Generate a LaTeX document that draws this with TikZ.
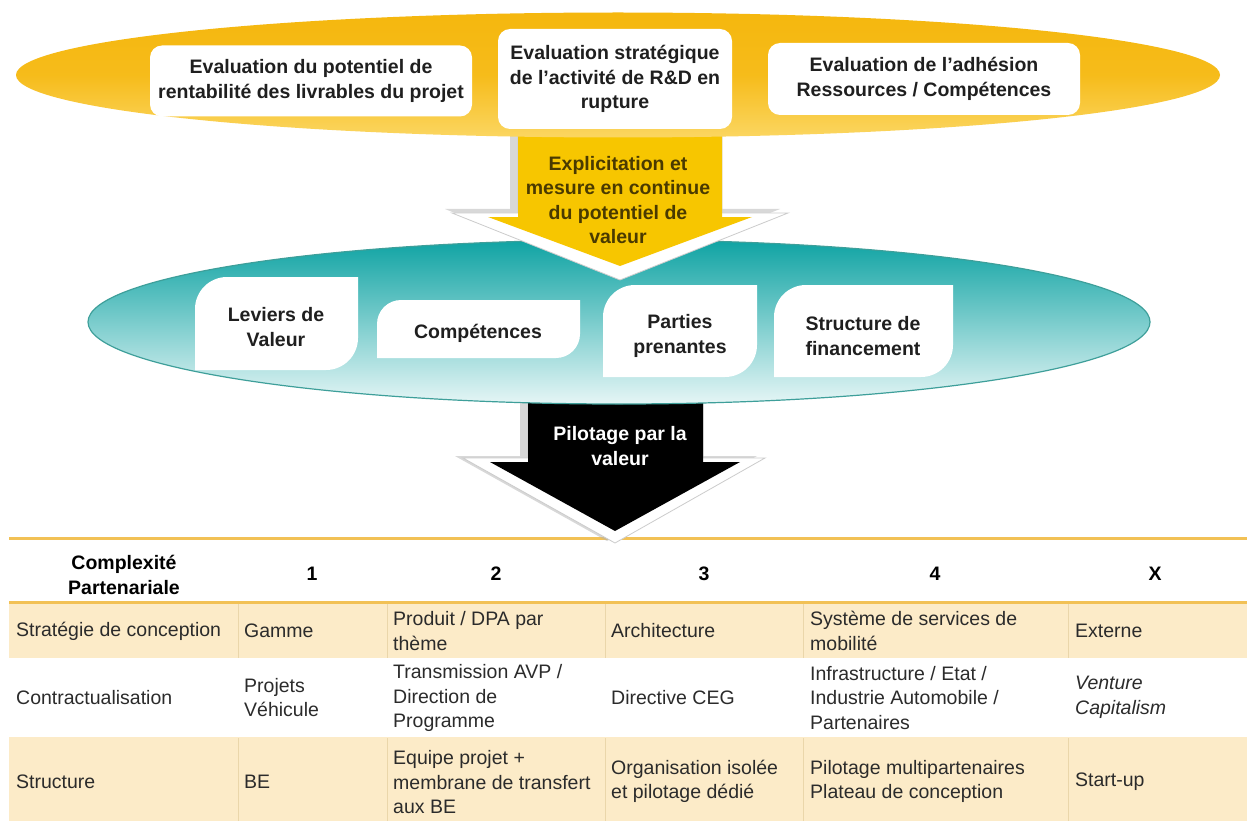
\documentclass[tikz,border=0pt]{standalone}
\usepackage{fontspec}
\setmainfont{Liberation Sans}
\definecolor{yel1}{HTML}{F5B70E}
\definecolor{yel2}{HTML}{FBD661}
\definecolor{arrowyel}{HTML}{F7C600}
\definecolor{arrowtxt}{HTML}{4A3A00}
\definecolor{teal1}{HTML}{0FA3A3}
\definecolor{teal2}{HTML}{E6F6F6}
\definecolor{tealedge}{HTML}{3E9F9A}
\definecolor{beige}{HTML}{FCEBC8}
\definecolor{tline}{HTML}{F2C155}
\definecolor{vline}{HTML}{EAD6AA}
\definecolor{txt}{HTML}{2B2B2B}
\tikzset{
  bigfont/.style={font=\fontsize{19.5}{24.5}\selectfont\bfseries},
  topbox/.style={fill=white, rounded corners=12pt, bigfont, text=black!88, align=center, inner sep=0pt},
  leaftext/.style={bigfont, text=black!88, align=center, inner sep=0pt},
  arrowtext/.style={bigfont, align=center, inner sep=0pt},
  cell/.style={anchor=west, font=\fontsize{19.5}{24.5}\selectfont, text=txt, align=left, inner sep=0pt},
  headcell/.style={font=\fontsize{19.5}{24.5}\selectfont\bfseries, text=black, align=center, inner sep=0pt},
  tablerule/.style={draw=tline, line width=3pt},
  colrule/.style={draw=vline, line width=0.8pt},
  leaffill/.style={fill=white},
  shadowfill/.style={fill=gray!60, opacity=0.5},
  glowfill/.style={fill=white, draw=gray!40, line width=0.8pt},
}
\newcommand\leafshape[5]{%
  \fill[leaffill] (#1,#2+#5) .. controls (#1,#2+0.448*#5) and (#1+0.448*#5,#2) .. (#1+#5,#2)
    -- (#3,#2) -- (#3,#4-#5) .. controls (#3,#4-0.448*#5) and (#3-0.448*#5,#4) .. (#3-#5,#4)
    -- (#1,#4) -- cycle;}
\begin{document}
\begin{tikzpicture}[x=1pt,y=-1pt]
\useasboundingbox (0,0) rectangle (1247,821);
\fill[white] (0,0) rectangle (1247,821);

% ---------- table ----------
\fill[beige] (9,602) rectangle (1247,658);
\fill[beige] (9,737) rectangle (1247,821);
\foreach \x in {238,387,605,803,1068} {
  \draw[colrule] (\x,604) -- (\x,658);
  \draw[colrule] (\x,738) -- (\x,821);
}
\draw[tablerule] (9,538) -- (1247,538);
\draw[tablerule] (9,602) -- (1247,602);

% ---------- black arrow ----------
\fill[shadowfill] (520,395) -- (520,456) -- (455,456) -- (607,541) -- (757,456) -- (695,456) -- (695,395) -- cycle;
\path[glowfill] (528,395) -- (528,458) -- (463,458) -- (615,543) -- (765,458) -- (703,458) -- (703,395) -- cycle;
\fill[black] (528,395) -- (528,462) -- (490,462) -- (615,531) -- (740,462) -- (703,462) -- (703,395) -- cycle;

% ---------- teal ellipse ----------
\shade[top color=teal1, bottom color=teal2] (619,322) ellipse [x radius=531, y radius=82];
\draw[tealedge, line width=1.2pt] (619,322) ellipse [x radius=531, y radius=82];

\leafshape{195}{277}{358}{370}{32}
\leafshape{377}{300}{580}{358}{24}
\leafshape{603}{285}{757}{377}{32}
\leafshape{774}{285}{953}{377}{32}

\node[leaftext] (lev) at (276,327) {Leviers de\\Valeur};
\node[leaftext] (comp) at (478,333) {Compétences};
\node[leaftext] (part) at (680,336) {Parties\\prenantes};
\node[leaftext] (fin) at (863,336) {Structure de\\financement};

% ---------- yellow arrow ----------
\fill[shadowfill] (510,120) -- (510,209) -- (445,209) -- (612,276) -- (780,209) -- (714,209) -- (714,120) -- cycle;
\path[glowfill] (518,120) -- (518,213) -- (452,213) -- (620,280) -- (788,213) -- (722,213) -- (722,120) -- cycle;
\fill[arrowyel] (518,120) -- (518,217) -- (488,217) -- (620,266) -- (752,217) -- (722,217) -- (722,120) -- cycle;

% ---------- yellow ellipse ----------
\shade[top color=yel1, bottom color=yel2, middle color=yel1!85!yel2] (618,75) ellipse [x radius=602, y radius=62.5];

\node[topbox, minimum width=322pt, minimum height=71pt] (b1) at (311,81) {Evaluation du potentiel de\\rentabilité des livrables du projet};
\node[topbox, minimum width=234pt, minimum height=100pt] (b2) at (615,79) {Evaluation stratégique\\de l’activité de R\&D en\\rupture};
\node[topbox, minimum width=312pt, minimum height=72pt] (b3) at (924,79) {Evaluation de l’adhésion\\Ressources / Compétences};

\node[arrowtext, text=arrowtxt] (expl) at (618,200) {Explicitation et\\mesure en continue\\du potentiel de\\valeur};
\node[arrowtext, text=white] (pil) at (620,446) {Pilotage par la\\valeur};

% ---------- table text ----------
\node[headcell] (h0) at (124,575) {Complexité\\Partenariale};
\node[headcell] (h1) at (312,574) {1};
\node[headcell] (h2) at (496,574) {2};
\node[headcell] (h3) at (704,574) {3};
\node[headcell] (h4) at (935,574) {4};
\node[headcell] (h5) at (1155,574) {X};

\node[cell] (r1c0) at (16,631) {Stratégie de conception};
\node[cell] (r1c1) at (244,631) {Gamme};
\node[cell] (r1c2) at (393,631) {Produit / DPA par\\thème};
\node[cell] (r1c3) at (611,631) {Architecture};
\node[cell] (r1c4) at (810,631) {Système de services de\\mobilité};
\node[cell] (r1c5) at (1075,631) {Externe};

\node[cell] (r2c0) at (16,698) {Contractualisation};
\node[cell] (r2c1) at (244,697.5) {Projets\\Véhicule};
\node[cell] (r2c2) at (393,698) {Transmission AVP /\\Direction de\\Programme};
\node[cell] (r2c3) at (611,698) {Directive CEG};
\node[cell] (r2c4) at (810,698) {Infrastructure / Etat /\\Industrie Automobile /\\Partenaires};
\node[cell, font=\fontsize{19.5}{24.5}\selectfont\itshape] (r2c5) at (1075,697.5) {Venture\\Capitalism};

\node[cell] (r3c0) at (16,782) {Structure};
\node[cell] (r3c1) at (244,782) {BE};
\node[cell] (r3c2) at (393,782.5) {Equipe projet +\\membrane de transfert\\aux BE};
\node[cell] (r3c3) at (611,781.5) {Organisation isolée\\et pilotage dédié};
\node[cell] (r3c4) at (810,781.5) {Pilotage multipartenaires\\Plateau de conception};
\node[cell] (r3c5) at (1075,782) {Start-up};
\end{tikzpicture}
\end{document}
